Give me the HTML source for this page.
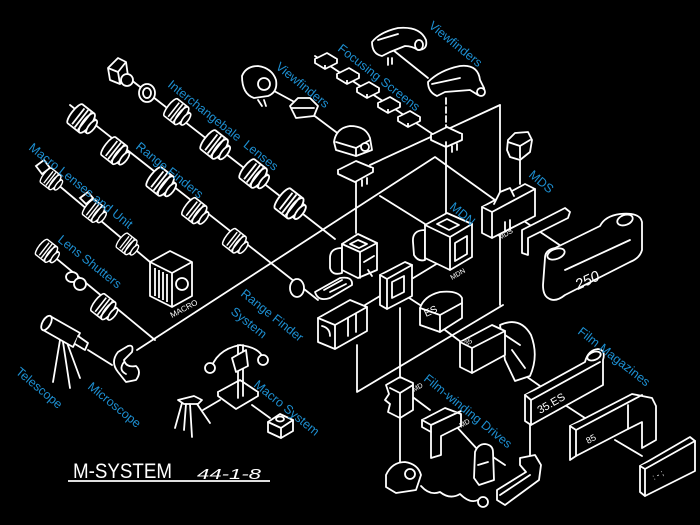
<!DOCTYPE html>
<html><head><meta charset="utf-8"><style>
html,body{margin:0;padding:0;background:#000;width:700px;height:525px;overflow:hidden}
svg{display:block}
.lb{font-family:"Liberation Sans",sans-serif;font-size:12.5px;fill:#1d8fd1}
.hw{font-family:"Liberation Sans",sans-serif;fill:#fff}
</style></head><body>
<svg width="700" height="525" viewBox="0 0 700 525" xmlns="http://www.w3.org/2000/svg">
<defs>
<g id="L" fill="#000" stroke="#fff" stroke-width="1.8" stroke-linejoin="round">
 <path d="M-10,-12 L5,-12 L5,12 L-10,12 A3.5,12 0 0 1 -10,-12 Z"/>
 <path d="M5,-8 L11,-8 L11,8 L5,8"/>
 <ellipse cx="5" cy="0" rx="4" ry="12"/>
 <ellipse cx="11" cy="0" rx="3" ry="8"/>
 <path d="M-6,-10 V10 M-2,-11 V11 M2,-11 V11" fill="none"/>
</g>
<g id="FSm" fill="#000" stroke="#fff" stroke-width="1.8" stroke-linejoin="round">
 <path d="M-11,-1 L1,-7 L11,-1 L-1,5 Z"/>
 <path d="M-11,-1 L-11,3 L-1,9 L11,3 L11,-1 M-1,5 L-1,9"/>
</g>
</defs>

<g fill="none" stroke="#fff" stroke-width="1.8" stroke-linecap="round" stroke-linejoin="round">
<!-- skeleton lines -->
<path d="M500,105 L500,305"/>
<path d="M500,105 L370,165"/>
<path d="M137,350 L435,157 L495,200"/>
<path d="M380,196 L425,224"/>
<path d="M356,182 L356,233"/>
<path d="M446,146 L446,220"/>
<path d="M446,98 L446,128" stroke-dasharray="6 3"/>
<path d="M357,345 L357,392 L503,305"/>
<path d="M400,308 L400,377 M400,418 L400,462"/>
<path d="M530,424 L530,456"/>
<path d="M520,160 L520,184"/>
<path d="M515,215 L570,252"/>
<path d="M410,280 L443,260"/>
<path d="M365,305 L380,296 M400,292 L420,305 M445,330 L465,345 M520,372 L540,386"/>
<path d="M565,405 L588,420 M615,440 L642,456"/>
<path d="M410,395 L430,410 M455,425 L478,450 M490,455 L505,465"/>
<path d="M393,50 L428,78"/>
<path d="M315,56 L437,137"/>
<path d="M250,78 L300,105 L340,135"/>
<!-- lens chains -->
<path d="M112,65 L335,239"/>
<path d="M70,105 L318,300"/>
<path d="M38,168 L150,262"/>
<path d="M40,245 L155,340"/>
<path d="M88,350 L112,365"/>
</g>

<!-- chain 1 -->
<g fill="#000" stroke="#fff" stroke-width="1.8" stroke-linejoin="round">
<path d="M108,68 L118,58 L126,62 L128,76 L120,84 L110,80 Z"/>
<path d="M108,68 L118,72 L126,62 M118,72 L120,84"/>
<circle cx="127" cy="80" r="6"/>
<ellipse cx="147" cy="93" rx="8" ry="9"/>
<ellipse cx="147" cy="93" rx="4" ry="5"/>
</g>
<use href="#L" transform="translate(178,113) rotate(38) scale(0.9)"/>
<use href="#L" transform="translate(216,146) rotate(38)"/>
<use href="#L" transform="translate(255,175) rotate(38)"/>
<use href="#L" transform="translate(291,205) rotate(38) scale(1.05)"/>
<!-- chain 2 -->
<use href="#L" transform="translate(83,120) rotate(38)"/>
<use href="#L" transform="translate(116,152) rotate(38) scale(0.95)"/>
<use href="#L" transform="translate(162,183) rotate(38)"/>
<use href="#L" transform="translate(196,212) rotate(38) scale(0.9)"/>
<use href="#L" transform="translate(236,242) rotate(38) scale(0.85)"/>
<ellipse cx="297" cy="288" rx="7" ry="9" fill="#000" stroke="#fff" stroke-width="1.8"/>
<!-- chain 3 -->
<g fill="#000" stroke="#fff" stroke-width="1.8">
<path d="M36,166 L44,160 L50,168 L42,174 Z"/>
<path d="M80,198 L88,192 L93,198 L86,204 Z"/>
</g>
<use href="#L" transform="translate(52,180) rotate(38) scale(0.75)"/>
<use href="#L" transform="translate(95,212) rotate(38) scale(0.8)"/>
<use href="#L" transform="translate(128,245) rotate(38) scale(0.75)"/>
<!-- bellows -->
<g fill="#000" stroke="#fff" stroke-width="1.8" stroke-linejoin="round">
<path d="M150,262 L170,251 L192,262 L192,296 L172,307 L150,296 Z"/>
<path d="M150,262 L172,273 L192,262 M172,273 L172,307"/>
<path d="M155,268 V296 M159,270 V298 M163,272 V300 M167,274 V302" fill="none"/>
<circle cx="182" cy="284" r="6"/>
</g>
<text class="hw" font-size="8" transform="translate(172,318) rotate(-28)">MACRO</text>
<!-- chain 4 -->
<use href="#L" transform="translate(48,252) rotate(38) scale(0.8)"/>
<g fill="#000" stroke="#fff" stroke-width="1.8">
<ellipse cx="72" cy="277" rx="6" ry="5"/>
<ellipse cx="80" cy="284" rx="6" ry="6"/>
</g>
<use href="#L" transform="translate(105,308) rotate(38) scale(0.9)"/>

<!-- telescope -->
<g fill="#000" stroke="#fff" stroke-width="1.8" stroke-linejoin="round" stroke-linecap="round">
<path d="M60,340 L53,382 M63,342 L70,388 M66,340 L80,378"/>
<path d="M50,316 L80,333 L73,347 L43,330 Z"/>
<ellipse cx="46.5" cy="323" rx="4" ry="8" transform="rotate(30 46.5 323)"/>
<path d="M78,336 L88,343 L85,350 L75,344"/>
<!-- microscope -->
<path d="M118,372 Q110,362 118,352 L128,346 Q134,344 132,352 L124,360 Q126,368 136,366 Q142,372 136,380 L126,382 Z"/>
<path d="M124,362 Q118,370 126,374"/>
</g>

<!-- macro system -->
<g fill="#000" stroke="#fff" stroke-width="1.8" stroke-linejoin="round" stroke-linecap="round">
<path d="M210,372 Q215,350 240,345 Q262,348 263,360" fill="none"/>
<circle cx="210" cy="368" r="5"/>
<circle cx="263" cy="360" r="5"/>
<path d="M218,392 L240,380 L258,392 L236,405 Z"/>
<path d="M218,392 L218,396 L236,409 L258,396 L258,392"/>
<path d="M238,345 L238,398 M243,345 L243,396"/>
<path d="M232,358 L246,350 L248,366 L236,372 Z"/>
<path d="M178,400 L194,396 L202,400 L198,404 L184,404 Z"/>
<path d="M182,403 L175,428 M190,404 L192,437 M197,404 L210,423 M186,404 L184,430" fill="none"/>
<path d="M203,410 L220,400 M252,405 L270,418" fill="none"/>
<path d="M268,422 L280,414 L293,420 L293,431 L281,438 L268,432 Z"/>
<path d="M268,422 L281,428 L293,420 M281,428 L281,438"/>
<ellipse cx="280" cy="419" rx="4" ry="2.5"/>
</g>

<!-- title -->
<text class="hw" x="73" y="478" font-size="21" textLength="99" lengthAdjust="spacingAndGlyphs">M-SYSTEM</text>
<text class="hw" x="197" y="479" font-size="15" font-style="italic" textLength="64" lengthAdjust="spacingAndGlyphs">44-1-8</text>
<line x1="68" y1="481" x2="270" y2="481" stroke="#fff" stroke-width="1.8"/>

<!-- top right viewfinders -->
<g fill="#000" stroke="#fff" stroke-width="1.8" stroke-linejoin="round" stroke-linecap="round">
<path d="M372,42 Q380,32 398,28 Q420,26 426,40 Q428,50 418,50 Q412,46 405,46 L390,52 L382,56 Q372,54 372,42 Z"/>
<ellipse cx="419" cy="45" rx="4" ry="5"/>
<path d="M378,40 L398,34 M388,58 L388,65 M392,58 L392,64" fill="none"/>
<path d="M428,82 Q440,70 460,66 Q478,64 480,80 L484,88 Q486,96 478,95 L470,90 L445,92 L437,96 Q428,92 428,82 Z"/>
<circle cx="481" cy="92" r="4"/>
<path d="M432,84 L460,78" fill="none"/>
<!-- FS receiver -->
<path d="M431,135 L447,127 L462,134 L446,142 Z"/>
<path d="M431,135 L431,140 L446,147 L462,140 L462,134 M446,142 L446,147"/>
<path d="M452,146 L452,152 M457,144 L457,150" fill="none"/>
</g>
<use href="#FSm" transform="translate(326,60)"/>
<use href="#FSm" transform="translate(348,75)"/>
<use href="#FSm" transform="translate(368,89)"/>
<use href="#FSm" transform="translate(389,104)"/>
<use href="#FSm" transform="translate(409,118)"/>

<!-- second viewfinder row -->
<g fill="#000" stroke="#fff" stroke-width="1.8" stroke-linejoin="round" stroke-linecap="round">
<path d="M242,76 Q246,66 258,66 Q272,68 276,80 Q278,92 268,96 L254,98 Q242,94 242,76 Z"/>
<circle cx="264" cy="84" r="6"/>
<path d="M258,100 L262,106 M264,100 L266,106" fill="none"/>
<path d="M290,106 L298,98 L310,98 L318,106 L314,116 L296,118 Z"/>
<path d="M292,108 L314,108" fill="none"/>
<path d="M334,142 Q336,128 350,126 Q366,126 370,138 L372,150 L356,156 L336,150 Z"/>
<path d="M336,142 L356,148 L370,140 M356,148 L356,156"/>
<circle cx="365" cy="147" r="4"/>
<!-- FS -->
<path d="M338,170 L356,161 L373,168 L355,177 Z"/>
<path d="M338,170 L338,174 L355,182 L373,172 L373,168"/>
<path d="M362,180 L362,186 M367,178 L367,184" fill="none"/>
</g>

<!-- camera box -->
<g fill="#000" stroke="#fff" stroke-width="1.8" stroke-linejoin="round" stroke-linecap="round">
<path d="M342,248 Q330,248 330,258 L330,268 Q332,276 342,273 Z"/>
<path d="M342,244 L358,234 L377,243 L377,270 L358,278 L342,270 Z"/>
<path d="M342,244 L360,252 L377,243 M360,252 L360,278"/>
<path d="M350,244 L358,240 L367,244 L359,248 Z"/>
<path d="M364,262 L374,256 M368,270 L372,276" fill="none"/>
</g>

<!-- MDN cube -->
<g fill="#000" stroke="#fff" stroke-width="1.8" stroke-linejoin="round" stroke-linecap="round">
<path d="M425,230 Q412,230 413,242 L414,255 Q418,262 425,260 Z"/>
<path d="M425,225 L447,213 L472,224 L472,257 L450,270 L425,258 Z"/>
<path d="M425,225 L450,237 L472,224 M450,237 L450,270"/>
<path d="M437,224 L447,219 L459,225 L449,230 Z"/>
<path d="M455,243 L467,236 L467,254 L455,261 Z"/>
</g>
<text class="hw" font-size="7" transform="translate(452,280) rotate(-30)">MDN</text>

<!-- MDS -->
<g fill="#000" stroke="#fff" stroke-width="1.8" stroke-linejoin="round" stroke-linecap="round">
<path d="M508,140 L515,133 L528,132 L532,140 L530,152 L520,160 L510,157 L507,150 Z"/>
<path d="M508,142 L520,146 L530,140 M520,146 L520,158" fill="none"/>
<path d="M482,207 L525,184 L535,189 L535,216 L492,238 L482,233 Z"/>
<path d="M482,207 L492,212 L535,189 M492,212 L492,238"/>
<path d="M494,204 L500,192 L510,188 L514,196"/>
<path d="M505,222 L505,232 M510,220 L510,230" fill="none"/>
<!-- bar piece -->
<path d="M522,230 L565,208 L570,212 L568,218 L528,238 L528,255 L522,253 Z"/>
<!-- 250 magazine -->
<path d="M545,258 Q545,250 555,248 L600,226 Q605,216 620,214 Q640,212 642,222 L642,250 Q640,258 630,262 L565,295 Q555,303 548,298 Q543,295 543,285 Z"/>
<ellipse cx="556" cy="254" rx="9" ry="5" transform="rotate(-20 556 254)"/>
<ellipse cx="625" cy="220" rx="8" ry="5" transform="rotate(-20 625 220)"/>
<path d="M565,270 L630,240" fill="none"/>
</g>
<text class="hw" font-size="7" transform="translate(500,240) rotate(-30)">MDS</text>
<text class="hw" font-size="15" font-style="italic" transform="translate(578,290) rotate(-25)">250</text>

<!-- lower center -->
<g fill="#000" stroke="#fff" stroke-width="1.8" stroke-linejoin="round" stroke-linecap="round">
<path d="M315,292 L340,278 Q353,276 352,285 L330,298 Q318,302 315,292 Z"/>
<path d="M324,290 L342,280 M330,292 L346,284" fill="none"/>
<path d="M318,318 L350,300 L367,307 L367,331 L335,349 L318,342 Z"/>
<path d="M318,318 L335,325 L367,307 M335,325 L335,349"/>
<path d="M322,326 Q330,328 330,336 M348,318 L348,336 M356,314 L356,332" fill="none"/>
<!-- F frame -->
<path d="M380,275 L405,262 L412,265 L412,296 L387,309 L380,305 Z"/>
<path d="M380,275 L387,279 L412,265 M387,279 L387,309"/>
<path d="M392,282 L404,276 L404,292 L392,298 Z"/>
<!-- ES -->
<path d="M420,308 Q424,296 440,292 Q458,290 462,298 L462,318 L440,332 L420,325 Z"/>
<path d="M420,308 L440,315 L462,303 M440,315 L440,332"/>
<!-- 35 box -->
<path d="M500,325 Q520,316 531,335 Q539,356 530,376 L515,381 L505,360 Z"/>
<path d="M505,335 L520,345 M512,350 L525,368" fill="none"/>
<path d="M460,342 L492,325 L505,331 L505,355 L472,373 L460,367 Z"/>
<path d="M460,342 L472,348 L505,331 M472,348 L472,373"/>
</g>
<text class="hw" font-size="10" transform="translate(426,317) rotate(-25)">ES</text>
<text class="hw" font-size="7" transform="translate(466,346) rotate(-28)">35</text>

<!-- film magazines -->
<g fill="#000" stroke="#fff" stroke-width="1.8" stroke-linejoin="round" stroke-linecap="round">
<path d="M525,395 L585,362 Q588,350 598,349 Q606,350 603,360 L603,385 L531,425 L525,421 Z"/>
<path d="M525,395 L531,400 L600,362 M531,400 L531,425"/>
<ellipse cx="594" cy="356" rx="7" ry="4" transform="rotate(-20 594 356)"/>
<path d="M570,426 L632,394 L652,398 L656,406 L656,440 L642,448 L642,422 L628,429 L576,456 L570,460 Z"/>
<path d="M570,426 L576,430 L642,395 M576,430 L576,456 M628,405 L628,429"/>
<path d="M640,466 L690,437 L695,441 L695,471 L645,496 L640,492 Z"/>
<path d="M640,466 L645,469 L695,441 M645,469 L645,496"/>
</g>
<text class="hw" font-size="11" transform="translate(540,414) rotate(-30)">35.ES</text>
<text class="hw" font-size="9" transform="translate(588,444) rotate(-28)">85</text>
<text class="hw" font-size="8" transform="translate(654,480) rotate(-28)">: - ;</text>

<!-- film winding drives -->
<g fill="#000" stroke="#fff" stroke-width="1.8" stroke-linejoin="round" stroke-linecap="round">
<path d="M386,385 L400,377 L413,383 L413,410 L400,418 L388,412 L390,404 L385,400 L389,394 Z"/>
<path d="M390,388 L400,393 L413,385 M400,393 L400,418"/>
<path d="M422,420 L445,408 L461,414 L461,426 L441,436 L441,455 L431,458 L431,432 L422,427 Z"/>
<path d="M422,420 L431,425 L461,411 M431,425 L431,432"/>
<path d="M475,452 Q478,444 485,444 Q493,445 493,452 L494,480 L479,485 L474,478 Z"/>
<path d="M478,465 L488,462" fill="none"/>
<path d="M520,458 L535,455 L541,465 L539,480 L505,505 L497,500 L497,490 L526,472 L520,465 Z"/>
<path d="M500,495 L530,475" fill="none"/>
<path d="M386,475 Q392,462 405,462 Q418,464 421,475 L416,490 L396,493 L386,487 Z"/>
<circle cx="410" cy="474" r="5"/>
<path d="M421,486 Q430,496 440,492 Q450,500 460,494 Q470,504 478,500" fill="none"/>
<circle cx="483" cy="502" r="5"/>
</g>
<text class="hw" font-size="7" transform="translate(414,392) rotate(-30)">MD</text>
<text class="hw" font-size="7" transform="translate(461,428) rotate(-30)">MD</text>

<!-- labels -->
<g class="lb">
<text transform="translate(428,27) rotate(39)">Viewfinders</text>
<text transform="translate(337,50) rotate(38)">Focusing Screens</text>
<text transform="translate(275,68) rotate(39)">Viewfinders</text>
<text transform="translate(167,86) rotate(38.5)" xml:space="preserve">Interchangebale  Lenses</text>
<text transform="translate(135,148) rotate(38.5)">Range Finders</text>
<text transform="translate(28,149) rotate(38.5)">Macro Lenses and Unit</text>
<text transform="translate(57,241) rotate(38.5)">Lens Shutters</text>
<text transform="translate(528,176) rotate(40)">MDS</text>
<text transform="translate(449,208) rotate(40)">MDN</text>
<text transform="translate(240,295) rotate(38.5)">Range Finder</text>
<text transform="translate(230,313) rotate(38.5)">System</text>
<text transform="translate(15,373) rotate(40)">Telescope</text>
<text transform="translate(87,388) rotate(39)">Microscope</text>
<text transform="translate(253,386) rotate(39)">Macro System</text>
<text transform="translate(423,380) rotate(39)">Film-winding Drives</text>
<text transform="translate(577,333) rotate(38)">Film Magazines</text>
</g>
</svg>
</body></html>
